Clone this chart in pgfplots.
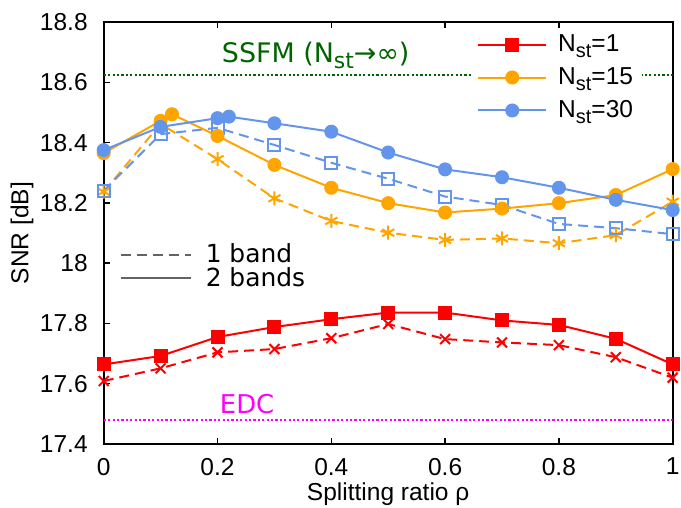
\documentclass[border=0pt]{standalone}
\usepackage{fontspec}
\setmainfont{Liberation Sans}
\newfontfamily\dejavu{DejaVu Sans}
\usepackage{pgfplots}
\pgfplotsset{compat=1.18}
\definecolor{cRed}{RGB}{255,0,0}
\definecolor{cOrange}{RGB}{255,165,0}
\definecolor{cBlue}{RGB}{100,149,237}
\definecolor{cGreen}{RGB}{0,100,0}
\definecolor{cMag}{RGB}{255,0,255}
\definecolor{cGray}{RGB}{100,100,100}
\newcommand{\sub}[1]{\raisebox{-0.45ex}{\fontsize{10}{10}\selectfont #1}}
\newcommand{\fnt}{\fontsize{12.3}{14.5}\selectfont}
\newcommand{\dfnt}{\dejavu\fontsize{12.5}{14.5}\selectfont}
\begin{document}
\begin{tikzpicture}
\begin{axis}[
  name=main,
  scale only axis, width=284.5bp, height=211bp,
  xmin=0, xmax=1, ymin=17.4, ymax=18.8,
  xtick={0,0.2,0.4,0.6,0.8,1}, xticklabels={0,0.2,0.4,0.6,0.8,1},
  ytick={17.4,17.6,17.8,18,18.2,18.4,18.6,18.8},
  yticklabels={17.4,17.6,17.8,18,18.2,18.4,18.6,18.8},
  xtick pos=both, ytick pos=left, tick align=inside,
  major tick length=3bp,
  axis line style={line width=1bp}, tick style={line width=0.7bp, black},
  font=\fnt,
  xticklabel style={yshift=-3.5bp},
  yticklabel style={xshift=-4.5bp},
  xlabel={Splitting ratio ρ},
  xlabel style={at={(axis description cs:0.5,0)}, anchor=center, yshift=-25bp},
  ylabel={SNR [dB]},
  ylabel style={at={(axis description cs:0,0.5)}, anchor=center, yshift=40.85bp},
  legend cell align=left,
  legend style={at={(rel axis cs:0.647,0.985)}, anchor=north west, draw=none, fill=white,
    inner xsep=2.5bp, inner ysep=1bp, row sep=2.5bp, column sep=3.5bp, font=\fnt,
    nodes={inner sep=2bp}},
  legend image code/.code={\draw[mark repeat=2,mark phase=2,#1] plot coordinates {(0bp,0bp) (17bp,0bp) (34bp,0bp)};},
]
% reference lines
\addplot[forget plot, cGreen, line width=1.1bp, dash pattern=on 1.1bp off 1.1bp] coordinates {(0,18.625) (1,18.625)};
\addplot[forget plot, cMag, line width=1.1bp, dash pattern=on 1.1bp off 1.1bp] coordinates {(0,17.48) (1,17.48)};
% dashed (1 band)
\addplot[forget plot, cRed, line width=1bp, dash pattern=on 5bp off 3bp, mark=x, mark size=3.5bp, mark options={solid}] coordinates {
(0,17.609) (0.1,17.651) (0.2,17.704) (0.3,17.715) (0.4,17.751) (0.5,17.798) (0.6,17.748) (0.7,17.737) (0.8,17.728) (0.9,17.688) (1,17.620)};
\addplot[forget plot, cOrange, line width=1bp, dash pattern=on 5bp off 3bp, mark=asterisk, mark size=3.5bp, mark options={solid}] coordinates {
(0,18.237) (0.1,18.462) (0.2,18.345) (0.3,18.215) (0.4,18.140) (0.5,18.101) (0.6,18.077) (0.7,18.082) (0.8,18.066) (0.9,18.093) (1,18.204)};
\addplot[forget plot, cBlue, line width=1bp, dash pattern=on 5bp off 3bp, mark=square, mark size=3bp, mark options={solid}] coordinates {
(0,18.240) (0.1,18.428) (0.2,18.449) (0.3,18.392) (0.4,18.333) (0.5,18.280) (0.6,18.221) (0.7,18.193) (0.8,18.130) (0.9,18.116) (1,18.096)};
% solid (2 bands)
\addplot[cRed, line width=1bp, mark=square*, mark size=3bp] coordinates {
(0,17.664) (0.1,17.692) (0.2,17.755) (0.3,17.788) (0.4,17.814) (0.5,17.836) (0.6,17.836) (0.7,17.810) (0.8,17.795) (0.9,17.749) (1,17.664)};
\addlegendentry{N\sub{st}=1}
\addplot[cOrange, line width=1bp, mark=*, mark size=3bp] coordinates {
(0,18.365) (0.1,18.472) (0.12,18.494) (0.2,18.422) (0.3,18.326) (0.4,18.250) (0.5,18.199) (0.6,18.168) (0.7,18.181) (0.8,18.199) (0.9,18.226) (1,18.312)};
\addlegendentry{N\sub{st}=15}
\addplot[cBlue, line width=1bp, mark=*, mark size=3bp] coordinates {
(0,18.375) (0.1,18.452) (0.2,18.481) (0.22,18.486) (0.3,18.464) (0.4,18.436) (0.5,18.367) (0.6,18.311) (0.7,18.285) (0.8,18.250) (0.9,18.210) (1,18.176)};
\addlegendentry{N\sub{st}=30}
\node[anchor=base, text=cGreen, font=\dejavu\fontsize{13.5}{15}\selectfont] at (axis cs:0.3726,18.664) {SSFM (N\raisebox{-0.4ex}{\fontsize{11}{11}\selectfont st}→∞)};
\node[anchor=base, text=cMag, font=\dejavu\fontsize{13}{15}\selectfont] at (axis cs:0.252,17.502) {EDC};
\end{axis}
\begin{axis}[
  scale only axis, width=284.5bp, height=211bp, hide axis,
  xmin=0, xmax=1, ymin=0, ymax=1,
  legend cell align=left,
  legend style={at={(rel axis cs:0.024,0.49)}, anchor=north west, draw=none, fill=none,
    inner sep=1bp, row sep=-3bp, column sep=5bp, font=\dfnt, nodes={inner sep=2bp}},
  legend image code/.code={\draw[#1] (0bp,0bp) -- (35bp,0bp);},
]
\addlegendimage{cGray, line width=1bp, dash pattern=on 5bp off 3bp}
\addlegendentry{1 band}
\addlegendimage{cGray, line width=1bp}
\addlegendentry{2 bands}
\end{axis}
\pgfresetboundingbox
\useasboundingbox ([shift={(-51.85bp,-32bp)}]main.south west) rectangle ([shift={(4.15bp,11bp)}]main.north east);
\end{tikzpicture}
\end{document}
